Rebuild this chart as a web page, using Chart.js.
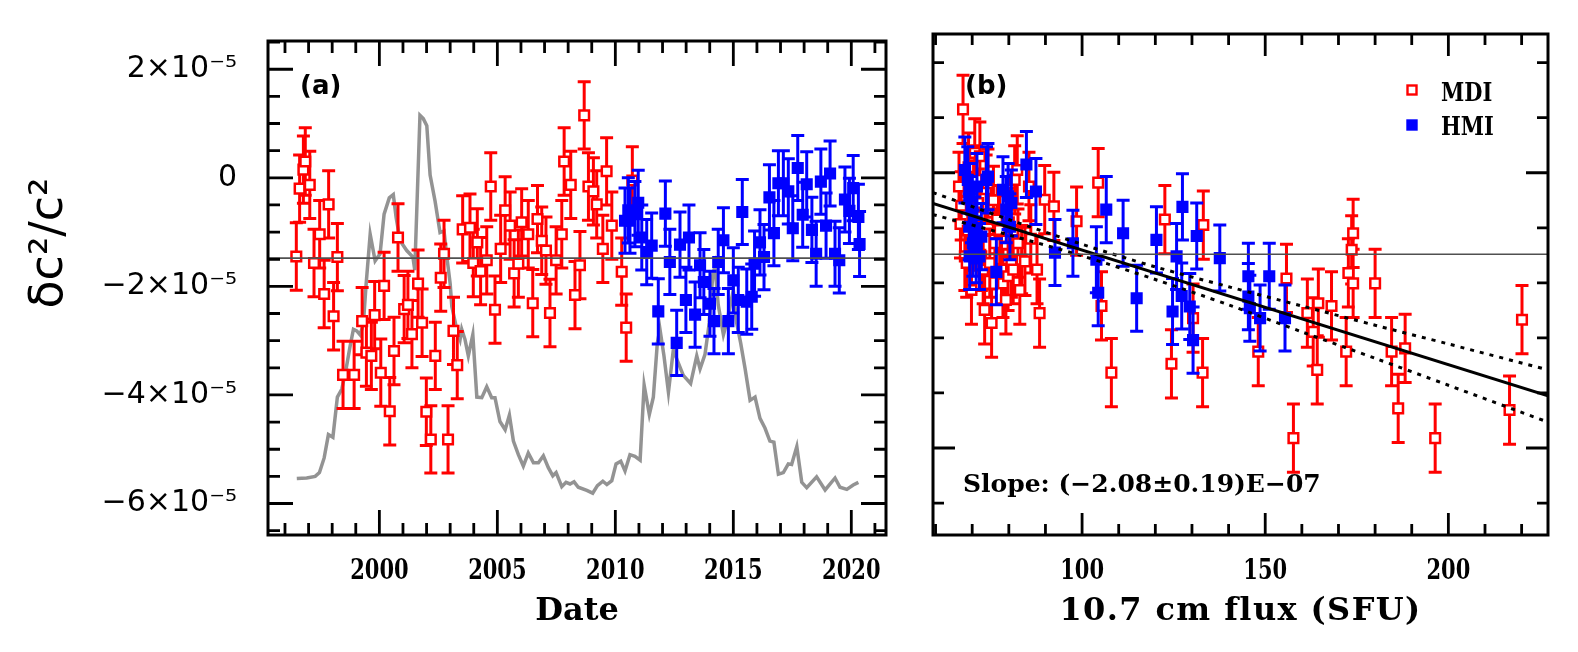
<!DOCTYPE html>
<html><head><meta charset="utf-8">
<script src="https://cdn.jsdelivr.net/npm/chart.js@4.4.1/dist/chart.umd.min.js"></script>
<style>
html,body{margin:0;padding:0;background:#fff;overflow:hidden}
#wrap{position:relative;width:1578px;height:652px;background:#fff}
canvas{position:absolute;top:0}
#cL{left:0}
#cR{left:900px}
</style></head>
<body><div id="wrap"><canvas id="cL" width="900" height="652"></canvas><canvas id="cR" width="678" height="652"></canvas></div>
<script>
// ---------- DATA (values in units of 1e-5) ----------
const greyYear = [1996.50,1996.92,1997.28,1997.46,1997.66,1997.84,1998.03,1998.22,1998.41,1998.59,1998.76,1998.90,1999.04,1999.18,1999.32,1999.44,1999.61,1999.82,2000.03,2000.20,2000.42,2000.59,2000.71,2000.88,2001.16,2001.42,2001.50,2001.72,2001.86,2002.01,2002.15,2002.36,2002.57,2002.74,2002.86,2003.00,2003.07,2003.28,2003.42,2003.49,2003.63,2003.77,2003.96,2004.13,2004.34,2004.55,2004.76,2004.90,2005.11,2005.33,2005.51,2005.68,2005.89,2006.10,2006.31,2006.53,2006.74,2006.95,2007.16,2007.35,2007.49,2007.73,2007.91,2008.08,2008.25,2008.43,2008.79,2009.04,2009.24,2009.47,2009.64,2009.85,2010.03,2010.23,2010.41,2010.62,2010.83,2011.05,2011.22,2011.44,2011.61,2011.78,2011.89,2012.06,2012.25,2012.46,2012.63,2012.88,2013.19,2013.45,2013.59,2013.80,2013.98,2014.13,2014.22,2014.36,2014.58,2014.72,2014.86,2015.00,2015.14,2015.31,2015.50,2015.71,2015.92,2016.13,2016.34,2016.55,2016.72,2016.91,2017.12,2017.33,2017.47,2017.69,2017.90,2018.11,2018.53,2018.89,2019.31,2019.52,2019.81,2020.08,2020.30];
const greyVal = [-5.54,-5.53,-5.50,-5.43,-5.16,-4.73,-4.78,-4.04,-3.89,-3.52,-3.10,-2.79,-2.82,-2.89,-2.70,-1.95,-1.04,-1.53,-1.40,-0.67,-0.37,-0.31,-0.73,-1.16,-1.34,-1.46,-1.70,1.15,1.09,0.96,0.05,-0.43,-1.01,-0.98,-1.46,-1.95,-2.37,-2.79,-2.98,-2.79,-2.98,-3.28,-2.89,-4.04,-4.05,-3.85,-4.05,-4.05,-4.49,-4.64,-4.37,-4.85,-5.10,-5.31,-5.07,-5.25,-5.25,-5.12,-5.34,-5.49,-5.43,-5.69,-5.61,-5.64,-5.60,-5.70,-5.76,-5.81,-5.67,-5.59,-5.65,-5.58,-5.27,-5.22,-5.40,-5.10,-5.13,-5.20,-3.82,-4.36,-4.04,-3.04,-2.79,-3.28,-3.95,-3.16,-3.37,-3.64,-3.79,-3.28,-3.52,-3.25,-2.67,-1.79,-1.62,-2.34,-2.89,-2.67,-2.37,-2.07,-2.67,-3.04,-3.52,-4.10,-4.04,-4.43,-4.61,-4.85,-4.87,-5.46,-5.43,-5.27,-5.28,-4.95,-5.61,-5.71,-5.51,-5.75,-5.53,-5.70,-5.74,-5.66,-5.61];

const mdiDate = [1996.48,1996.62,1996.78,1996.86,1997.05,1997.23,1997.47,1997.66,1997.85,1998.06,1998.22,1998.46,1998.93,1999.27,1999.45,1999.66,1999.80,2000.06,2000.20,2000.44,2000.62,2000.79,2001.05,2001.21,2001.38,2001.64,2001.81,2001.99,2002.18,2002.37,2002.60,2002.74,2002.91,2003.14,2003.30,2003.53,2003.84,2003.98,2004.15,2004.29,2004.55,2004.72,2004.90,2005.14,2005.33,2005.54,2005.71,2005.89,2006.03,2006.31,2006.50,2006.70,2006.88,2007.06,2007.23,2007.49,2007.73,2007.83,2008.11,2008.29,2008.50,2008.68,2008.86,2009.07,2009.21,2009.47,2009.63,2009.85,2010.27,2010.46,2010.72];
const mdiVal = [-1.45,-0.20,0.15,0.30,-0.13,-1.57,-1.04,-2.14,-0.49,-2.55,-1.46,-3.63,-3.63,-2.64,-3.22,-3.28,-2.53,-3.59,-1.99,-4.30,-3.19,-1.10,-2.42,-2.34,-2.88,-1.95,-2.67,-4.31,-4.82,-3.28,-1.84,-1.40,-4.82,-2.82,-3.45,-0.95,-0.92,-1.57,-1.19,-1.72,-1.52,-0.16,-2.43,-1.31,-0.60,-0.88,-1.76,-1.58,-0.82,-1.04,-2.31,-0.76,-1.16,-1.34,-2.49,-1.52,-1.04,0.30,-0.13,-2.16,-1.61,1.15,-0.16,-0.25,-0.49,-1.31,0.12,-0.88,-1.73,-2.76,-0.05];
const mdiErr = 0.62;

const hmiDate = [2010.41,2010.55,2010.62,2010.83,2010.97,2011.12,2011.33,2011.54,2011.82,2012.12,2012.31,2012.60,2012.74,2012.99,2013.12,2013.38,2013.59,2013.75,2014.01,2014.18,2014.36,2014.58,2014.79,2015.00,2015.21,2015.38,2015.57,2015.78,2015.90,2016.13,2016.30,2016.53,2016.72,2016.91,2017.12,2017.33,2017.52,2017.73,2017.94,2018.11,2018.33,2018.51,2018.71,2018.93,2019.10,2019.31,2019.49,2019.73,2019.92,2020.08,2020.30,2020.35];
const hmiVal = [-0.79,-0.60,-0.79,-0.67,-0.46,-1.10,-1.37,-1.25,-2.46,-0.66,-1.55,-3.04,-1.23,-2.25,-1.10,-2.52,-1.61,-1.92,-2.32,-2.64,-1.55,-1.15,-2.64,-1.89,-2.25,-0.63,-2.28,-2.19,-1.58,-1.19,-1.46,-0.36,-1.02,-0.10,-0.10,-0.25,-0.93,0.18,-0.68,-0.12,-0.96,-1.40,-0.07,-0.88,0.08,-1.40,-1.52,-0.40,-0.61,-0.19,-0.72,-1.22];
const hmiErr = 0.60;

const mdiFlux = [66.4,66.8,67.0,67.5,68.0,68.5,68.8,69.0,69.8,70.0,70.5,70.7,71.2,71.6,72.1,72.1,72.5,73.0,73.4,73.8,74.3,74.8,75.3,75.8,76.2,76.8,77.5,78.0,78.4,79.2,79.8,80.0,80.7,81.2,81.6,82.3,82.5,83.0,83.5,84.4,85.5,86.0,87.7,88.4,89.8,92.3,98.5,104.4,105.3,108.0,122.6,124.4,130.3,132.9,133.1,148.1,155.8,157.7,161.5,163.1,164.2,164.5,168.1,172.1,172.7,173.6,174.0,174.0,180.0,184.5,186.3,188.2,196.4,216.7,220.1];
const mdiFluxVal = [-0.25,-0.93,-0.60,1.15,-1.52,-1.64,-1.05,0.10,-2.13,-0.40,-1.15,0.36,-0.13,-0.55,0.30,-0.79,-1.52,-1.76,-2.49,-0.30,-0.19,-1.64,-2.73,-0.50,-1.28,-0.85,-1.04,-1.76,-2.01,-2.31,-1.88,-0.90,-1.64,-1.76,-0.13,0.05,-1.28,-2.13,-1.58,-1.61,-0.25,-1.20,-1.76,-2.55,-0.49,-0.61,-0.88,-0.18,-2.42,-3.63,-0.85,-3.47,-2.64,-3.63,-0.95,-3.25,-1.92,-4.82,-2.55,-2.89,-3.58,-2.37,-2.42,-3.25,-1.82,-1.40,-1.10,-2.01,-2.01,-3.25,-4.28,-3.19,-4.82,-4.31,-2.67];

const hmiFlux = [68.0,68.8,69.2,69.3,69.3,69.8,70.2,70.7,71.1,71.3,72.0,72.5,73.9,74.3,76.6,78.4,79.3,79.8,80.3,80.7,84.8,87.4,92.6,97.5,103.9,104.4,106.6,111.2,114.9,120.3,124.7,125.8,127.2,127.4,129.4,130.3,131.3,137.6,145.4,145.4,145.8,148.6,151.1,155.4];
const hmiFluxVal = [0.05,-0.13,-0.98,-0.43,-1.52,-0.67,-1.28,-1.04,-1.40,-0.25,-1.52,-1.16,-0.13,-0.07,-1.80,-0.31,-0.67,-0.43,-0.98,-0.55,0.15,-0.34,-1.45,-1.28,-1.58,-2.18,-0.67,-1.10,-2.28,-1.22,-2.52,-1.52,-2.24,-0.62,-2.43,-3.04,-1.15,-1.55,-1.88,-2.25,-2.46,-2.64,-1.88,-2.64];

const fitIntercept = 0.675;     // 1e-5 units
const fitSlope = -0.0208;       // 1e-5 per SFU  (-2.08E-07)
const bandFlux  = [59.3, 80, 100, 120, 140, 160, 180, 200, 227.2];
const bandUpper = [-0.36,-0.85,-1.30,-1.71,-2.07,-2.42,-2.77,-3.11,-3.58];
const bandLower = [-0.76,-1.13,-1.51,-1.94,-2.40,-2.89,-3.37,-3.86,-4.53];
const meanLevel = -1.48;

const dateTicks = [2000, 2005, 2010, 2015, 2020];
const fluxTicks = [100, 150, 200];
const valTicks = [-6, -4, -2, 0, 2];
const valTickLabels = ['\u22126\u00d710\u207b\u2075', '\u22124\u00d710\u207b\u2075', '\u22122\u00d710\u207b\u2075', '0', '2\u00d710\u207b\u2075'];

const Y_MIN = -6.58, Y_MAX = 2.52;
const DATE_MIN = 1995.28, DATE_MAX = 2021.47;
const FLUX_MIN = 59.3, FLUX_MAX = 227.2;

// ---------- decoration config ----------
const SERIF = '"DejaVu Serif", "Liberation Serif", serif';
const decorCfg = {
  cL: {
    xFrom: 1996, xTo: 2021, xStep: 1, xMajor: 5,
    yFrom: -6.5, yTo: 2.5, yStep: 0.5, yMajor: 2,
    lenMaj: 25, lenMin: 12,
    xLabels: dateTicks,
    xTitle: {text: 'Date', font: 'bold 32px ' + SERIF, spacing: 0},
    texts: [
      {text: '(a)', x: 300, y: 87, font: 'bold 26px "DejaVu Sans"'},
      {text: '\u03b4c\u00b2/c\u00b2', x: 50, y: 243, rot: -Math.PI/2, align: 'center', font: '46px "DejaVu Sans"'}
    ],
    legend: []
  },
  cR: {
    xFrom: 60, xTo: 220, xStep: 10, xMajor: 50,
    yFrom: -6, yTo: 2, yStep: 1, yMajor: 5,
    lenMaj: 22, lenMin: 11,
    xLabels: fluxTicks,
    xTitle: {text: '10.7 cm flux (SFU)', font: 'bold 32px ' + SERIF, spacing: 1.4},
    texts: [
      {text: '(b)', x: 65, y: 87, font: 'bold 26px "DejaVu Sans"'},
      {text: 'Slope: (\u22122.08\u00b10.19)E\u221207', x: 63, y: 492, baseline: 'alphabetic', font: 'bold 25px ' + SERIF},
      {text: 'MDI', x: 541, y: 101, stretch: 1.25, baseline: 'alphabetic', font: 'bold 21px ' + SERIF},
      {text: 'HMI', x: 541, y: 135, stretch: 1.25, baseline: 'alphabetic', font: 'bold 21px ' + SERIF}
    ],
    legend: [
      {x: 512, y: 90, color: '#ff0000', filled: false},
      {x: 512, y: 125, color: '#0000ff', filled: true}
    ]
  }
};

const isMult = (v, m) => Math.abs(v / m - Math.round(v / m)) < 1e-6;

function putText(ctx, t) {
  ctx.save();
  ctx.font = t.font; ctx.fillStyle = '#000';
  ctx.textAlign = t.align || 'left'; ctx.textBaseline = t.baseline || 'middle';
  if (t.spacing) ctx.letterSpacing = t.spacing + 'px';
  ctx.translate(t.x, t.y);
  if (t.rot) ctx.rotate(t.rot);
  if (t.stretch) ctx.scale(1, t.stretch);
  ctx.fillText(t.text, 0, 0);
  ctx.restore();
}

const decorPlugin = {
  id: 'decor',
  beforeDatasetDraw(chart, args) {
    const ds = chart.data.datasets[args.index];
    if (ds.err === undefined) return;
    const {ctx, chartArea: a} = chart;
    const xs = chart.scales.x, ys = chart.scales.y;
    ctx.save();
    ctx.beginPath(); ctx.rect(a.left, a.top, a.right - a.left, a.bottom - a.top); ctx.clip();
    ctx.strokeStyle = ds.borderColor; ctx.lineWidth = 3; ctx.lineCap = 'butt';
    ctx.beginPath();
    ds.data.forEach(p => {
      const x = xs.getPixelForValue(p.x);
      const y1 = ys.getPixelForValue(p.y + ds.err), y2 = ys.getPixelForValue(p.y - ds.err);
      ctx.moveTo(x, y1); ctx.lineTo(x, y2);
      ctx.moveTo(x - 6.5, y1); ctx.lineTo(x + 6.5, y1);
      ctx.moveTo(x - 6.5, y2); ctx.lineTo(x + 6.5, y2);
    });
    ctx.stroke();
    ctx.restore();
  },
  afterDatasetsDraw(chart) {
    const o = decorCfg[chart.canvas.id];
    const {ctx, chartArea: a} = chart;
    const xs = chart.scales.x, ys = chart.scales.y;
    ctx.save();
    // mean level line
    const hy = ys.getPixelForValue(meanLevel);
    ctx.strokeStyle = '#505050'; ctx.lineWidth = 1.6;
    ctx.beginPath(); ctx.moveTo(a.left, hy); ctx.lineTo(a.right, hy); ctx.stroke();
    // ticks (inward, mirrored)
    ctx.strokeStyle = '#000'; ctx.lineWidth = 2.8; ctx.lineCap = 'butt';
    ctx.beginPath();
    for (let v = o.xFrom; v <= o.xTo + 1e-9; v += o.xStep) {
      const px = xs.getPixelForValue(v);
      const L = isMult(v, o.xMajor) ? o.lenMaj : o.lenMin;
      ctx.moveTo(px, a.bottom); ctx.lineTo(px, a.bottom - L);
      ctx.moveTo(px, a.top); ctx.lineTo(px, a.top + L);
    }
    for (let v = o.yFrom; v <= o.yTo + 1e-9; v += o.yStep) {
      const py = ys.getPixelForValue(v);
      const L = isMult(v, o.yMajor) ? o.lenMaj : o.lenMin;
      ctx.moveTo(a.left, py); ctx.lineTo(a.left + L, py);
      ctx.moveTo(a.right, py); ctx.lineTo(a.right - L, py);
    }
    ctx.stroke();
    // frame
    ctx.lineWidth = 3;
    ctx.strokeRect(a.left, a.top, a.right - a.left, a.bottom - a.top);
    // legend markers
    o.legend.forEach(m => {
      ctx.lineWidth = 2.4; ctx.strokeStyle = m.color; ctx.fillStyle = m.filled ? m.color : '#fff';
      ctx.fillRect(m.x - 4.5, m.y - 4.5, 9, 9); ctx.strokeRect(m.x - 4.5, m.y - 4.5, 9, 9);
    });
    ctx.restore();
    // x tick labels and title (positions from the x scale)
    o.xLabels.forEach(v => putText(ctx, {text: String(v), x: xs.getPixelForValue(v), y: a.bottom + 44,
      align: 'center', baseline: 'alphabetic', stretch: 1.3, font: 'bold 21px ' + SERIF}));
    putText(ctx, Object.assign({x: (a.left + a.right) / 2, y: a.bottom + 85, align: 'center', baseline: 'alphabetic'}, o.xTitle));
    o.texts.forEach(t => putText(ctx, t));
  }
};

const pts = (xs, ys) => xs.map((x, i) => ({x, y: ys[i]}));

const baseOpts = {
  responsive: false, animation: false, devicePixelRatio: 1,
  plugins: {legend: {display: false}, tooltip: {enabled: false}},
  events: []
};

const markerStyle = (color, filled) => ({
  pointStyle: 'rect', pointRadius: 6.8, pointHoverRadius: 6.8,
  borderColor: color, backgroundColor: filled ? color : '#ffffff',
  pointBorderWidth: 2.5, borderWidth: 2.5, showLine: false
});

const xAxisBase = {
  type: 'linear', grid: {display: false}, border: {display: false},
  ticks: {display: false}, title: {display: false},
  afterFit: s => { s.height = 117; }
};

// ---------- left panel ----------
new Chart(document.getElementById('cL'), {
  type: 'scatter',
  data: {datasets: [
    {type: 'line', data: pts(greyYear, greyVal), borderColor: '#939393', borderWidth: 3.5, pointRadius: 0, tension: 0, order: 3},
    Object.assign({data: pts(mdiDate, mdiVal), err: mdiErr, order: 2}, markerStyle('#ff0000', false)),
    Object.assign({data: pts(hmiDate, hmiVal), err: hmiErr, order: 1}, markerStyle('#0000ff', true))
  ]},
  options: Object.assign({}, baseOpts, {
    layout: {padding: {top: 34, right: 14, left: 0, bottom: 0}},
    scales: {
      x: Object.assign({}, xAxisBase, {min: DATE_MIN, max: DATE_MAX}),
      y: {type: 'linear', min: Y_MIN, max: Y_MAX,
          grid: {display: false}, border: {display: false},
          afterBuildTicks: s => { s.ticks = valTicks.map(v => ({value: v})); },
          afterFit: s => { s.width = 268; },
          ticks: {padding: 23, font: {family: 'DejaVu Sans', size: 30}, color: '#000', autoSkip: false,
                  callback: (v, i) => valTickLabels[i]}}
    }
  }),
  plugins: [decorPlugin]
});

// ---------- right panel ----------
new Chart(document.getElementById('cR'), {
  type: 'scatter',
  data: {datasets: [
    {type: 'line', data: [{x: FLUX_MIN, y: fitIntercept + fitSlope * FLUX_MIN}, {x: FLUX_MAX, y: fitIntercept + fitSlope * FLUX_MAX}],
     borderColor: '#000', borderWidth: 3, pointRadius: 0, order: 0},
    {type: 'line', data: pts(bandFlux, bandUpper), borderColor: '#000', borderWidth: 3, borderDash: [4, 6], pointRadius: 0, tension: 0.3, order: 0},
    {type: 'line', data: pts(bandFlux, bandLower), borderColor: '#000', borderWidth: 3, borderDash: [4, 6], pointRadius: 0, tension: 0.3, order: 0},
    Object.assign({data: pts(mdiFlux, mdiFluxVal), err: mdiErr, order: 2}, markerStyle('#ff0000', false)),
    Object.assign({data: pts(hmiFlux, hmiFluxVal), err: hmiErr, order: 1}, markerStyle('#0000ff', true))
  ]},
  options: Object.assign({}, baseOpts, {
    layout: {padding: {top: 34, right: 30, left: 33, bottom: 0}},
    scales: {
      x: Object.assign({}, xAxisBase, {min: FLUX_MIN, max: FLUX_MAX}),
      y: {type: 'linear', min: Y_MIN, max: Y_MAX, display: false}
    }
  }),
  plugins: [decorPlugin]
});
</script>
</body></html>
